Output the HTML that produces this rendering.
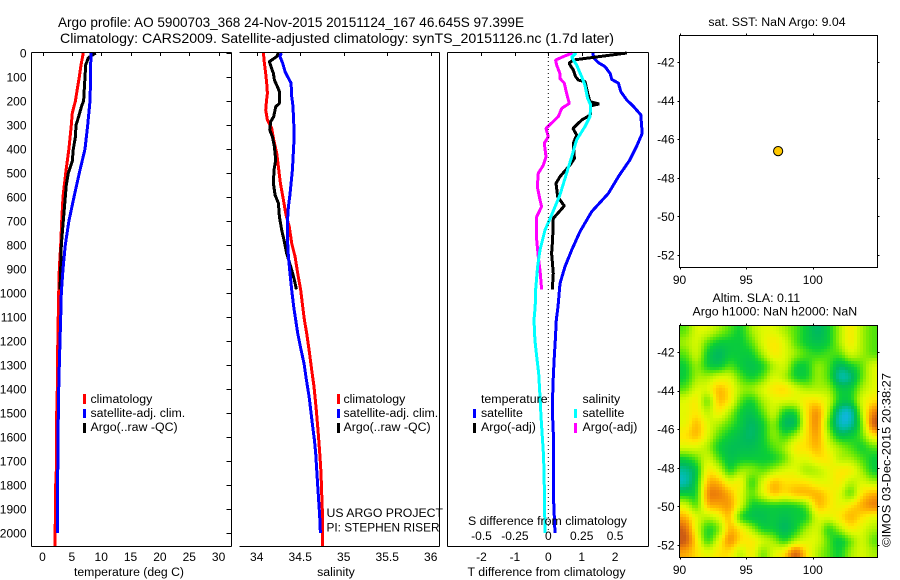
<!DOCTYPE html>
<html>
<head>
<meta charset="utf-8">
<title>Argo profile</title>
<style>
html,body{margin:0;padding:0;background:#fff;}
svg{display:block;}
text{font-family:"Liberation Sans",sans-serif;font-size:12.35px;fill:#000;}
.tick{font-size:12px;}
.title{font-size:14px;}
</style>
</head>
<body>
<svg id="chart" xmlns="http://www.w3.org/2000/svg" width="900" height="580" viewBox="0 0 900 580">
  <rect x="0" y="0" width="900" height="580" fill="#fff"/>
  <text class="title" x="58" y="27" textLength="466" lengthAdjust="spacingAndGlyphs">Argo profile: AO 5900703_368 24-Nov-2015 20151124_167 46.645S 97.399E</text>
  <text class="title" x="60" y="43" textLength="554" lengthAdjust="spacingAndGlyphs">Climatology: CARS2009. Satellite-adjusted climatology: synTS_20151126.nc (1.7d later)</text>
  <g id="marks-heat" shape-rendering="crispEdges"></g>
  <g id="marks"></g>
  <g id="axes" shape-rendering="crispEdges"></g>
  <g id="labels"></g>

  <text x="129" y="576" text-anchor="middle" textLength="110" lengthAdjust="spacingAndGlyphs">temperature (deg C)</text>
  <text x="336" y="576" text-anchor="middle">salinity</text>
  <text x="546.5" y="576" text-anchor="middle">T difference from climatology</text>
  <text x="547.5" y="525" text-anchor="middle">S difference from climatology</text>

  <g shape-rendering="crispEdges">
    <rect x="83" y="394" width="3" height="10" fill="#f00"/>
    <rect x="83" y="409" width="3" height="9" fill="#00f"/>
    <rect x="83" y="423" width="3" height="10" fill="#000"/>
    <text x="90.5" y="403">climatology</text>
    <text x="90.5" y="417">satellite-adj. clim.</text>
    <text x="90.5" y="431">Argo(..raw -QC)</text>
  </g>
  <g shape-rendering="crispEdges">
    <rect x="337" y="394" width="3" height="10" fill="#f00"/>
    <rect x="337" y="409" width="3" height="9" fill="#00f"/>
    <rect x="337" y="423" width="3" height="10" fill="#000"/>
    <text x="343.5" y="403">climatology</text>
    <text x="343.5" y="417">satellite-adj. clim.</text>
    <text x="343.5" y="431">Argo(..raw -QC)</text>
  </g>
  <g shape-rendering="crispEdges">
    <text x="481" y="403">temperature</text>
    <rect x="473" y="409" width="3" height="9" fill="#00f"/>
    <rect x="473" y="423" width="3" height="10" fill="#000"/>
    <text x="481" y="417">satellite</text>
    <text x="481" y="431">Argo(-adj)</text>
    <text x="582.5" y="403">salinity</text>
    <rect x="574" y="409" width="3" height="9" fill="#0ff"/>
    <rect x="574" y="423" width="3" height="10" fill="#f0f"/>
    <text x="582.5" y="417">satellite</text>
    <text x="582.5" y="431">Argo(-adj)</text>
  </g>

  <text x="326.5" y="517" textLength="116.5" lengthAdjust="spacingAndGlyphs">US ARGO PROJECT</text>
  <text x="326.5" y="531.5" textLength="113" lengthAdjust="spacingAndGlyphs">PI: STEPHEN RISER</text>

  <text x="777" y="26" text-anchor="middle">sat. SST: NaN Argo: 9.04</text>
  <text x="712.5" y="302">Altim. SLA: 0.11</text>
  <text x="692.5" y="315.5">Argo h1000: NaN h2000: NaN</text>
  <text transform="translate(890.5,547) rotate(-90)" textLength="174" lengthAdjust="spacingAndGlyphs">©IMOS 03-Dec-2015 20:38:27</text>
</svg>
<script>
// ----- temperature panel data -----
const tempClimDepth = [0,50,100,150,200,250,300,400,500,600,700,800,900,1000,1200,1400,1500,1700,1800,1900,2000,2054];
const tempClim = [6.95,6.56,6.27,5.93,5.6,5.08,4.9,4.5,3.95,3.5,3.27,3.1,2.87,2.76,2.6,2.52,2.42,2.42,2.25,2.25,2.13,2.13];
const tempSatDepth = [0,50,100,200,300,400,500,600,700,800,900,1000,1100,1200,1300,1400,1500,1700,1800,2000];
const tempSat = [8.3,8.2,8.2,8.09,7.7,7.24,6.27,5.37,4.5,3.89,3.5,3.2,3.1,2.98,2.87,2.76,2.7,2.64,2.52,2.52];
const tempArgoDepth = [0,20,50,100,200,220,270,300,350,400,450,500,550,600,700,800,900,985];
const tempArgo = [9.06,7.8,7.36,7.24,7.0,6.68,6.1,5.7,5.6,5.25,5.08,4.4,4.05,3.89,3.55,3.2,3.1,2.98];

// ----- salinity panel data -----
const salClimDepth = [0,43,85,126,168,203,238,279,314,362,418,474,543,612,675,724,793,849,918,988,1057,1112,1168,1238,1321,1390,1474,1571,1682,1751,1835,1946,2054];
const salClim = [34.077,34.088,34.103,34.115,34.123,34.111,34.103,34.123,34.172,34.195,34.23,34.249,34.272,34.307,34.337,34.375,34.402,34.441,34.471,34.506,34.529,34.548,34.575,34.602,34.632,34.659,34.682,34.705,34.728,34.739,34.747,34.759,34.759];
const salSatDepth = [0,15,43,78,99,126,182,210,279,362,418,488,543,599,640,710,793,849,918,988,1057,1112,1168,1238,1293,1362,1432,1501,1557,1612,1668,1737,1847,1932,2001];
const salSat = [34.284,34.268,34.299,34.326,34.356,34.395,34.402,34.414,34.425,34.429,34.421,34.41,34.395,34.379,34.364,34.352,34.356,34.364,34.383,34.402,34.425,34.448,34.471,34.51,34.544,34.571,34.602,34.625,34.644,34.663,34.678,34.69,34.709,34.724,34.732];
const salArgoDepth = [0,15,36,57,85,113,140,161,210,224,265,286,321,349,390,446,488,543,592,626,682,738,779,835,904,946,985];
const salArgo = [34.249,34.23,34.146,34.165,34.192,34.203,34.238,34.261,34.261,34.218,34.195,34.161,34.149,34.18,34.203,34.218,34.199,34.192,34.211,34.249,34.261,34.287,34.314,34.345,34.402,34.433,34.456];

// ----- difference panel data -----
const dTSatDepth = [0,22,40,57,85,110,126,161,196,224,258,335,390,446,515,585,661,744,821,890,960,1057,1112,1196,1265,1376,1487,1612,1862,2001];
const dTSat = [1.33,1.37,1.5,1.7,1.85,1.9,2.1,2.17,2.35,2.56,2.77,2.81,2.64,2.44,2.1,1.8,1.3,0.95,0.7,0.5,0.35,0.29,0.24,0.21,0.18,0.14,0.12,0.16,0.16,0.2];
const dTArgoDepth = [0,29,43,71,99,113,119,168,203,212,221,258,279,314,342,376,439,467,515,543,599,637,689,779,835,918,985];
const dTArgo = [2.35,0.75,0.62,0.75,0.82,0.9,1.1,1.18,1.25,1.52,1.26,1.26,1.0,0.74,0.85,0.75,0.78,0.65,0.35,0.23,0.28,0.48,0.15,0.13,0.1,0.15,0.12];
const dSSatDepth = [0,18,50,99,133,189,217,265,307,362,432,501,592,675,738,821,890,988,1057,1112,1196,1265,1335,1432,1515,1598,1682,1807,2001];
const dSSat = [0.207,0.175,0.212,0.25,0.274,0.294,0.317,0.312,0.274,0.212,0.175,0.137,0.087,0.025,-0.025,-0.062,-0.08,-0.095,-0.098,-0.107,-0.1,-0.087,-0.072,-0.062,-0.055,-0.045,-0.035,-0.03,-0.025];
const dSArgoDepth = [0,12,29,50,85,106,126,168,210,231,265,314,349,376,432,467,501,557,612,640,682,779,849,918,985];
const dSArgo = [0.182,0.125,0.055,0.062,0.087,0.087,0.12,0.137,0.157,0.1,0.075,-0.017,0,-0.03,-0.017,-0.037,-0.075,-0.082,-0.062,-0.05,-0.087,-0.087,-0.075,-0.06,-0.05];

// ----- tick labels -----
const depthTicks = [0,100,200,300,400,500,600,700,800,900,1000,1100,1200,1300,1400,1500,1600,1700,1800,1900,2000];
const tempTicks = [0,5,10,15,20,25,30];
const salTicks = [34,34.5,35,35.5,36];
const dTTicks = [-2,-1,0,1,2];
const dSTicks = [-0.5,-0.25,0,0.25,0.5];
const lonTicks = [90,95,100];
const latTicks = [-42,-44,-46,-48,-50,-52];

// ----- float position -----
const floatLon = 97.399;
const floatLat = -46.645;

// ----- sea level anomaly grid (colour index, west to east, north to south) -----
const slaGrid = [
[4,6,6,5,4,3,5,6,6,5,4,3,2,3,5,7,5,4],
[5,6,4,3,3,3,4,6,7,6,4,3,2.5,3,5,7,5,4],
[4,6,3,2,3,3,3,5,7,6,5,4,3.5,4,4,6,5,4],
[3,5,3,2.5,4,3,2.5,3,5,6,3,3,5,4,2,3,4,6],
[3,5,5,6,6,4,3,4,6,5,3,3,5,4,1,1.5,4,6],
[4,6,6,8,7,5,5,6,7,7.5,6,5,5,5,3,3,5,6],
[6,7,3.5,8,7,4,3,5,6,6,6,7,7,6,3,3,6,7],
[6,7,5,7,5,3,2.5,4,6,3,3,7,9,5,1,0.5,5,9],
[6,8,6,5,4,3,2,3,5,2,2,7,9,4,0.8,1,4,10],
[7,8,6,4,3,2.5,2,3,5,3.5,5,7,8.5,5,2.5,3,4,7],
[6,6,5,3,2.5,2.5,2.5,3,4,5,7,7,8,6,5,4,3,4],
[3,4,6,4,2.5,3,3,3,3,4,6,6,7,7,5,5,4,3],
[1.5,2.5,7,6,3,5,5,4,5,6,6,4.5,5,6,7,7,5,3],
[1,3,8,8,6,7,3,6,8,7,7,7,6,6,7,5,6,5],
[3,3,9,9,8,6,4,6,8,7,8,8,8,7,6,3.5,7,8],
[6,3.5,8,8,8.5,6,3,3,3,3,3,4,8,7,6,7,8,9],
[8,6,5,6,8,3,2.5,2.5,3,2.5,3,3,6,6,7,8,7,6],
[9.5,6,3,4,8,7,5,3,3,2,3,5,6,3,5,7,6,5],
[10,7,3,6,9,7,7,6,5,3,5,6,6,4,2.5,4,6,4],
[8,7,6,7,7,5,7,4,6,7,10,7,5,4,3,5,6,5]
];
const slaColourStops = ["#14b4f0","#00bca8","#00ba5c","#0cd034","#5ae608","#aef200","#e0fa00","#ffe800","#ffb400","#f08408","#cc5c14"];

// ----- axis functions -----
const yDepth = d => 53 + d * 0.24;
const xTemp = v => 42.5 + v * 5.87;
const xSal = v => 256.7 + (v - 34) * 87;
const xDT = v => 548.3 + v * 33.4;
const xDS = v => 548.3 + v * 133.6;
const xLon = v => 679.5 + (v - 90) * 13.33;
const yLatA = v => 62 + (-42 - v) * 19.3;
const yLatB = v => 352 + (-42 - v) * 19.3;

const NS = 'http://www.w3.org/2000/svg';
const marks = document.getElementById('marks');
const axes = document.getElementById('axes');
const labels = document.getElementById('labels');
const heat = document.getElementById('marks-heat');

function makeLine(x1, y1, x2, y2) {
  const el = document.createElementNS(NS, 'line');
  el.setAttribute('x1', x1);
  el.setAttribute('y1', y1);
  el.setAttribute('x2', x2);
  el.setAttribute('y2', y2);
  el.setAttribute('stroke', '#000');
  el.setAttribute('stroke-width', '1');
  axes.appendChild(el);
  return el;
}
function makeLabel(x, y, str, anchor) {
  const el = document.createElementNS(NS, 'text');
  el.setAttribute('x', x);
  el.setAttribute('y', y);
  el.setAttribute('text-anchor', anchor);
  el.setAttribute('class', 'tick');
  el.textContent = str;
  labels.appendChild(el);
  return el;
}
function drawProfile(depths, values, xf, colour, name) {
  const el = document.createElementNS(NS, 'polyline');
  el.setAttribute('points', depths.map((d, i) => xf(values[i]).toFixed(1) + ',' + yDepth(d).toFixed(1)).join(' '));
  el.setAttribute('fill', 'none');
  el.setAttribute('stroke', colour);
  el.setAttribute('stroke-width', '3');
  el.setAttribute('stroke-linejoin', 'bevel');
  el.setAttribute('shape-rendering', 'crispEdges');
  
  
  marks.appendChild(el);
}

// profile lines
drawProfile(tempClimDepth, tempClim, xTemp, '#f00', 'temperature-climatology-line');
drawProfile(tempArgoDepth, tempArgo, xTemp, '#000', 'temperature-argo-line');
drawProfile(tempSatDepth, tempSat, xTemp, '#00f', 'temperature-satellite-line');
drawProfile(salClimDepth, salClim, xSal, '#f00', 'salinity-climatology-line');
drawProfile(salArgoDepth, salArgo, xSal, '#000', 'salinity-argo-line');
drawProfile(salSatDepth, salSat, xSal, '#00f', 'salinity-satellite-line');
drawProfile(dTSatDepth, dTSat, xDT, '#00f', 't-difference-satellite-line');
drawProfile(dTArgoDepth, dTArgo, xDT, '#000', 't-difference-argo-line');
drawProfile(dSArgoDepth, dSArgo, xDS, '#f0f', 's-difference-argo-line');
drawProfile(dSSatDepth, dSSat, xDS, '#0ff', 's-difference-satellite-line');

// zero reference line in difference panel
const zeroLine = document.createElementNS(NS, 'line');
zeroLine.setAttribute('x1', xDT(0));
zeroLine.setAttribute('x2', xDT(0));
zeroLine.setAttribute('y1', yDepth(0));
zeroLine.setAttribute('y2', yDepth(2000));
zeroLine.setAttribute('stroke', '#000');
zeroLine.setAttribute('stroke-width', '1');
zeroLine.setAttribute('stroke-dasharray', '1 3');


marks.appendChild(zeroLine);

// axes frames
const frames = [
  {name:'temperature', l:31.5, r:231.5, vl:true, vr:true},
  {name:'salinity', l:239.5, r:439.5, vl:false, vr:true},
  {name:'difference', l:447.5, r:648.5, vl:true, vr:true}
];
frames.forEach(f => {
  const top = makeLine(f.l, 52.5, f.r, 52.5);
  
  
  const bottom = makeLine(f.l, 546.5, f.r, 546.5);
  
  
  if (f.vl) {
    const left = makeLine(f.l, 52.5, f.l, 546.5);
    
    
  }
  if (f.vr) {
    const right = makeLine(f.r, 52.5, f.r, 546.5);
    
    
  }
});

// depth ticks
depthTicks.forEach(d => {
  const y = yDepth(d);
  const t = makeLine(226.5, Math.round(y) + 0.5, 231.5, Math.round(y) + 0.5);
  
  
  const l = makeLabel(26.5, y + 4.5, String(d), 'end');
  
  
});
function xTicks(values, xf, baseline, name, tick) {
  values.forEach(v => {
    const x = xf(v);
    if (tick) {
      const t = makeLine(Math.round(x) + 0.5, 52.5, Math.round(x) + 0.5, 56);
      
      
    }
    const l = makeLabel(x, baseline, String(v), 'middle');
    
    
  });
}
xTicks(tempTicks, xTemp, 561, 'temperature', true);
xTicks(salTicks, xSal, 561, 'salinity', true);
xTicks(dTTicks, xDT, 561, 't-difference', true);
xTicks(dSTicks, xDS, 540, 's-difference', false);

// maps: the grid is resampled to small cells and softened so the field reads as continuous
function slaBilinear(px, py) {
  const u = Math.max(0, Math.min(16.999, (px - 680) / 11 - 0.5));
  const v = Math.max(0, Math.min(18.999, (py - 325) / 11.65 - 0.5));
  const i = Math.floor(u), j = Math.floor(v);
  const a = u - i, b = v - j;
  return (slaGrid[j][i] * (1 - a) + slaGrid[j][i + 1] * a) * (1 - b) +
         (slaGrid[j + 1][i] * (1 - a) + slaGrid[j + 1][i + 1] * a) * b;
}
function slaValue(px, py) {
  let sum = 0, n = 0;
  for (let dy = -4; dy <= 4; dy += 2) {
    for (let dx = -4; dx <= 4; dx += 2) {
      sum += slaBilinear(px + dx, py + dy);
      n += 1;
    }
  }
  return 5.5 + (sum / n - 5.5) * 1.1;
}
function hexRGB(h) {
  return [parseInt(h.slice(1, 3), 16), parseInt(h.slice(3, 5), 16), parseInt(h.slice(5, 7), 16)];
}
const stopRGB = slaColourStops.map(hexRGB);
function slaColour(v) {
  const c = Math.max(0, Math.min(9.999, v));
  const k = Math.floor(c), f = c - k;
  const p = stopRGB[k], q = stopRGB[k + 1];
  return 'rgb(' + [0, 1, 2].map(n => Math.round(p[n] + (q[n] - p[n]) * f)).join(',') + ')';
}
for (let py = 325; py < 558; py += 3) {
  for (let px = 680; px < 878; px += 3) {
    const cell = document.createElementNS(NS, 'rect');
    cell.setAttribute('x', px);
    cell.setAttribute('y', py);
    cell.setAttribute('width', Math.min(3, 878 - px));
    cell.setAttribute('height', Math.min(3, 558 - py));
    cell.setAttribute('fill', slaColour(slaValue(px + 1.5, py + 1.5)));
    
    
    heat.appendChild(cell);
  }
}

function drawMapFrame(top, bottom, yf, name, labelBase) {
  const box = document.createElementNS(NS, 'rect');
  box.setAttribute('x', 679.5);
  box.setAttribute('y', top);
  box.setAttribute('width', 198);
  box.setAttribute('height', bottom - top);
  box.setAttribute('fill', 'none');
  box.setAttribute('stroke', '#000');
  
  
  axes.appendChild(box);
  lonTicks.forEach(v => {
    const x = Math.round(xLon(v)) + 0.5;
    const t1 = makeLine(x, top - 2, x, top);
    
    
    const t2 = makeLine(x, bottom, x, bottom + 2);
    
    
    const l = makeLabel(xLon(v), labelBase, String(v), 'middle');
    
    
  });
  latTicks.forEach(v => {
    const y = Math.round(yf(v)) + 0.5;
    const t1 = makeLine(677.5, y, 679.5, y);
    
    
    const t2 = makeLine(877.5, y, 879.5, y);
    
    
    const l = makeLabel(674.5, yf(v) + 4.5, String(v), 'end');
    
    
  });
}
drawMapFrame(35.5, 267.5, yLatA, 'sst-map', 284);
drawMapFrame(325.5, 557.5, yLatB, 'sla-map', 574);

// float position marker
const floatDot = document.createElementNS(NS, 'circle');
floatDot.setAttribute('cx', xLon(floatLon));
floatDot.setAttribute('cy', yLatA(floatLat) - 0.5);
floatDot.setAttribute('r', '4.6');
floatDot.setAttribute('fill', '#ffc800');
floatDot.setAttribute('stroke', '#000');
floatDot.setAttribute('stroke-width', '1');


marks.appendChild(floatDot);
</script>
</body>
</html>
